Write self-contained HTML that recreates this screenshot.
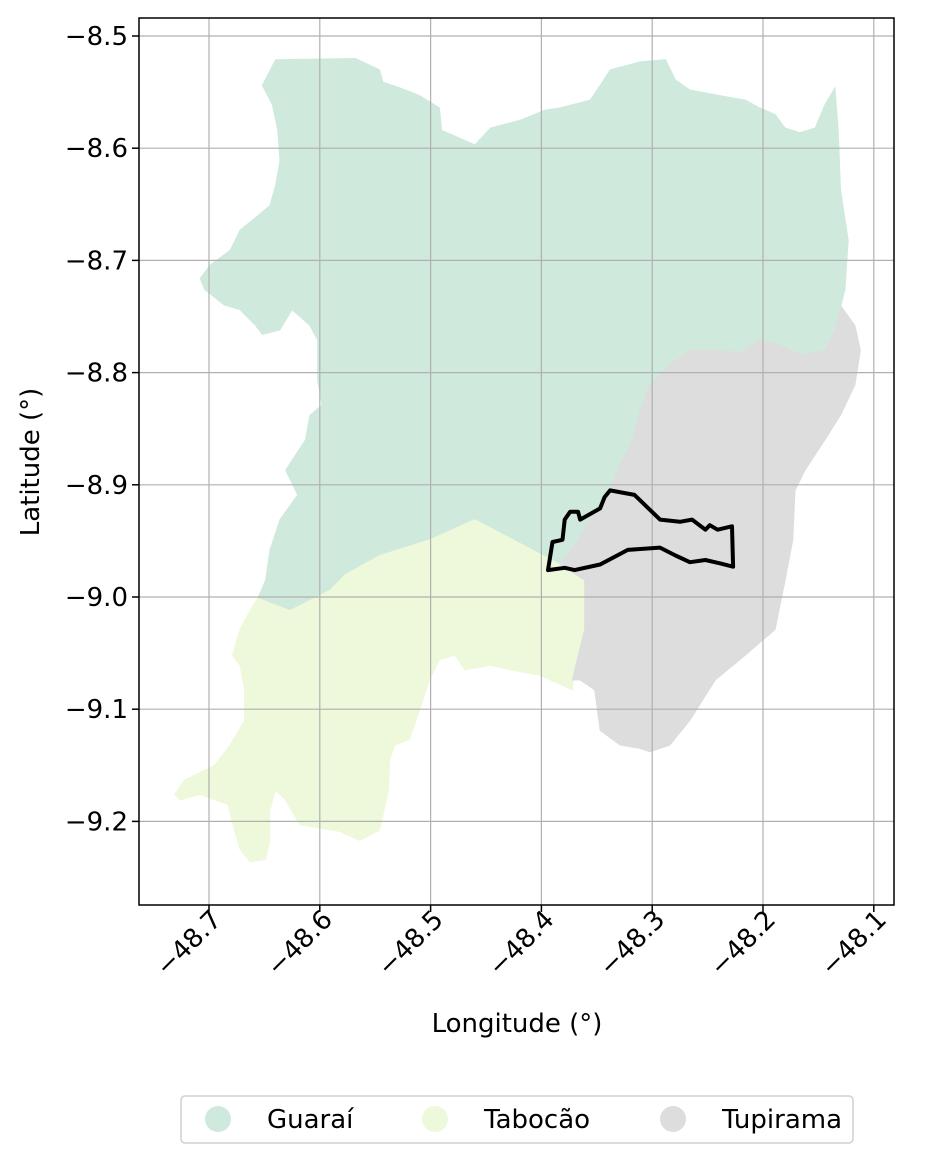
<!DOCTYPE html>
<html><head><meta charset="utf-8"><style>
html,body{margin:0;padding:0;background:#fff;}
svg{display:block;font-family:"DejaVu Sans","Liberation Sans",sans-serif;}
</style></head><body>
<svg id="chart" width="931" height="1163" viewBox="0 0 931 1163" xmlns="http://www.w3.org/2000/svg">
<g id="regions"></g>
<g id="grid"></g>
<g id="outline"></g>
<rect x="139" y="18" width="755" height="887" fill="none" stroke="#000" stroke-width="1.5"/>
<g id="xticks"></g>
<g id="yticks"></g>
<text x="517" y="1032" style="font-size:26px" text-anchor="middle">Longitude (°)</text>
<text transform="translate(39,462) rotate(-90)" style="font-size:26px" text-anchor="middle">Latitude (°)</text>
<g>
<rect x="181" y="1096" width="672" height="47" rx="4" fill="#fff" stroke="#d0d0d0" stroke-width="1.5"/>
<g id="legend-items"></g>
</g>
</svg>
<script>
const xTicks=[-48.7,-48.6,-48.5,-48.4,-48.3,-48.2,-48.1];
const yTicks=[-8.5,-8.6,-8.7,-8.8,-8.9,-9.0,-9.1,-9.2];
const regionNames=["Guaraí","Tabocão","Tupirama"];
const regionColors=["#cfeadd","#eef8da","#dddddd"];
const guarai=[[-48.640,-8.521],[-48.568,-8.520],[-48.546,-8.530],[-48.543,-8.541],[-48.528,-8.546],[-48.510,-8.553],[-48.492,-8.564],[-48.490,-8.584],[-48.460,-8.597],[-48.446,-8.582],[-48.419,-8.575],[-48.397,-8.566],[-48.383,-8.564],[-48.356,-8.557],[-48.347,-8.544],[-48.338,-8.530],[-48.311,-8.523],[-48.288,-8.521],[-48.279,-8.539],[-48.266,-8.548],[-48.239,-8.553],[-48.216,-8.557],[-48.203,-8.564],[-48.189,-8.570],[-48.180,-8.582],[-48.167,-8.586],[-48.153,-8.582],[-48.144,-8.561],[-48.135,-8.546],[-48.132,-8.584],[-48.130,-8.637],[-48.123,-8.682],[-48.126,-8.726],[-48.135,-8.762],[-48.144,-8.780],[-48.167,-8.784],[-48.185,-8.775],[-48.203,-8.771],[-48.221,-8.782],[-48.239,-8.780],[-48.266,-8.780],[-48.284,-8.793],[-48.302,-8.811],[-48.311,-8.833],[-48.318,-8.860],[-48.329,-8.882],[-48.338,-8.905],[-48.356,-8.931],[-48.370,-8.954],[-48.383,-8.971],[-48.460,-8.931],[-48.501,-8.949],[-48.546,-8.963],[-48.577,-8.980],[-48.591,-8.994],[-48.618,-9.007],[-48.627,-9.012],[-48.645,-9.007],[-48.656,-9.001],[-48.649,-8.985],[-48.645,-8.958],[-48.636,-8.931],[-48.620,-8.909],[-48.631,-8.887],[-48.613,-8.860],[-48.609,-8.838],[-48.598,-8.829],[-48.602,-8.807],[-48.602,-8.771],[-48.609,-8.758],[-48.625,-8.744],[-48.636,-8.762],[-48.652,-8.766],[-48.658,-8.758],[-48.672,-8.744],[-48.686,-8.740],[-48.704,-8.726],[-48.708,-8.716],[-48.699,-8.704],[-48.681,-8.691],[-48.672,-8.673],[-48.656,-8.660],[-48.645,-8.651],[-48.640,-8.633],[-48.636,-8.611],[-48.638,-8.584],[-48.643,-8.561],[-48.652,-8.544]];
const tabocao=[[-48.383,-8.971],[-48.361,-8.985],[-48.361,-9.029],[-48.370,-9.065],[-48.372,-9.083],[-48.383,-9.078],[-48.401,-9.070],[-48.428,-9.065],[-48.446,-9.061],[-48.469,-9.065],[-48.478,-9.052],[-48.492,-9.056],[-48.501,-9.074],[-48.510,-9.101],[-48.519,-9.127],[-48.532,-9.132],[-48.537,-9.145],[-48.538,-9.172],[-48.546,-9.208],[-48.564,-9.217],[-48.582,-9.209],[-48.600,-9.206],[-48.618,-9.203],[-48.631,-9.181],[-48.640,-9.172],[-48.645,-9.190],[-48.645,-9.217],[-48.649,-9.234],[-48.663,-9.236],[-48.672,-9.225],[-48.677,-9.208],[-48.683,-9.185],[-48.708,-9.176],[-48.726,-9.181],[-48.731,-9.176],[-48.722,-9.163],[-48.695,-9.150],[-48.681,-9.132],[-48.668,-9.110],[-48.668,-9.083],[-48.672,-9.061],[-48.679,-9.052],[-48.672,-9.029],[-48.663,-9.012],[-48.656,-9.001],[-48.627,-9.012],[-48.591,-8.994],[-48.577,-8.980],[-48.546,-8.963],[-48.501,-8.949],[-48.460,-8.931]];
const tupirama=[[-48.130,-8.740],[-48.117,-8.758],[-48.112,-8.780],[-48.117,-8.811],[-48.130,-8.838],[-48.144,-8.860],[-48.162,-8.887],[-48.171,-8.905],[-48.173,-8.949],[-48.180,-8.985],[-48.189,-9.029],[-48.216,-9.052],[-48.243,-9.074],[-48.266,-9.110],[-48.284,-9.132],[-48.302,-9.138],[-48.311,-9.135],[-48.329,-9.132],[-48.347,-9.119],[-48.352,-9.083],[-48.365,-9.074],[-48.372,-9.074],[-48.370,-9.065],[-48.361,-9.029],[-48.361,-8.985],[-48.383,-8.971],[-48.370,-8.954],[-48.356,-8.931],[-48.338,-8.905],[-48.329,-8.882],[-48.318,-8.860],[-48.311,-8.833],[-48.302,-8.811],[-48.284,-8.793],[-48.266,-8.780],[-48.239,-8.780],[-48.221,-8.782],[-48.203,-8.771],[-48.185,-8.775],[-48.167,-8.784],[-48.144,-8.780],[-48.135,-8.762]];
const studyArea=[[-48.394,-8.976],[-48.390,-8.951],[-48.381,-8.949],[-48.379,-8.931],[-48.374,-8.924],[-48.367,-8.924],[-48.365,-8.931],[-48.347,-8.921],[-48.343,-8.911],[-48.338,-8.905],[-48.316,-8.909],[-48.293,-8.931],[-48.275,-8.933],[-48.264,-8.931],[-48.252,-8.940],[-48.248,-8.936],[-48.241,-8.940],[-48.228,-8.937],[-48.227,-8.973],[-48.239,-8.970],[-48.252,-8.967],[-48.266,-8.969],[-48.279,-8.963],[-48.293,-8.956],[-48.322,-8.958],[-48.347,-8.971],[-48.370,-8.976],[-48.379,-8.974]];

const NS="http://www.w3.org/2000/svg";
const X0=139,X1=894,Y0=18,Y1=905;
function sx(lon){return 209+(lon+48.7)*1108;}
function sy(lat){return 36+(-8.5-lat)*1122;}
function mk(tag,attrs,parent){const e=document.createElementNS(NS,tag);for(const k in attrs)e.setAttribute(k,attrs[k]);parent.appendChild(e);return e;}
function pts(a){return a.map(p=>sx(p[0]).toFixed(1)+","+sy(p[1]).toFixed(1)).join(" ");}
const fmt=v=>"\u2212"+Math.abs(v).toFixed(1);

const regions=document.getElementById("regions");
[guarai,tabocao,tupirama].forEach((poly,i)=>{
  const p=mk("polygon",{points:pts(poly),fill:regionColors[i],stroke:regionColors[i],"stroke-width":"0.8"},regions);
  
  
});
const grid=document.getElementById("grid");
xTicks.forEach(v=>{
  const l=mk("line",{x1:sx(v),x2:sx(v),y1:Y0,y2:Y1,stroke:"#b0b0b0","stroke-width":"1.2"},grid);
  
  
});
yTicks.forEach(v=>{
  const l=mk("line",{x1:X0,x2:X1,y1:sy(v),y2:sy(v),stroke:"#b0b0b0","stroke-width":"1.2"},grid);
  
  
});
const ol=mk("polygon",{points:pts(studyArea),fill:"none",stroke:"#000","stroke-width":"4","stroke-linejoin":"round"},document.getElementById("outline"));



const xt=document.getElementById("xticks");
xTicks.forEach(v=>{
  const x=sx(v);
  const t=mk("line",{x1:x,x2:x,y1:Y1,y2:Y1+7,stroke:"#000","stroke-width":"1.5"},xt);
  
  
  const tx=mk("text",{transform:`translate(${x+14},${Y1+16}) rotate(-45)`,style:"font-size:26px","text-anchor":"end"},xt);
  tx.textContent=fmt(v);
  
  
});
const yt=document.getElementById("yticks");
yTicks.forEach(v=>{
  const y=sy(v);
  const t=mk("line",{x1:X0-7,x2:X0,y1:y,y2:y,stroke:"#000","stroke-width":"1.5"},yt);
  
  
  const tx=mk("text",{x:X0-11,y:y+9,style:"font-size:26px","text-anchor":"end"},yt);
  tx.textContent=fmt(v);
  
  
});
const li=document.getElementById("legend-items");
const legX=[218,435,673];
regionNames.forEach((n,i)=>{
  const c=mk("circle",{cx:legX[i],cy:1119,r:13,fill:regionColors[i]},li);
  
  
  const t=mk("text",{x:legX[i]+49,y:1128,style:"font-size:26px"},li);
  t.textContent=n;
  
  
});
</script>
</body></html>
